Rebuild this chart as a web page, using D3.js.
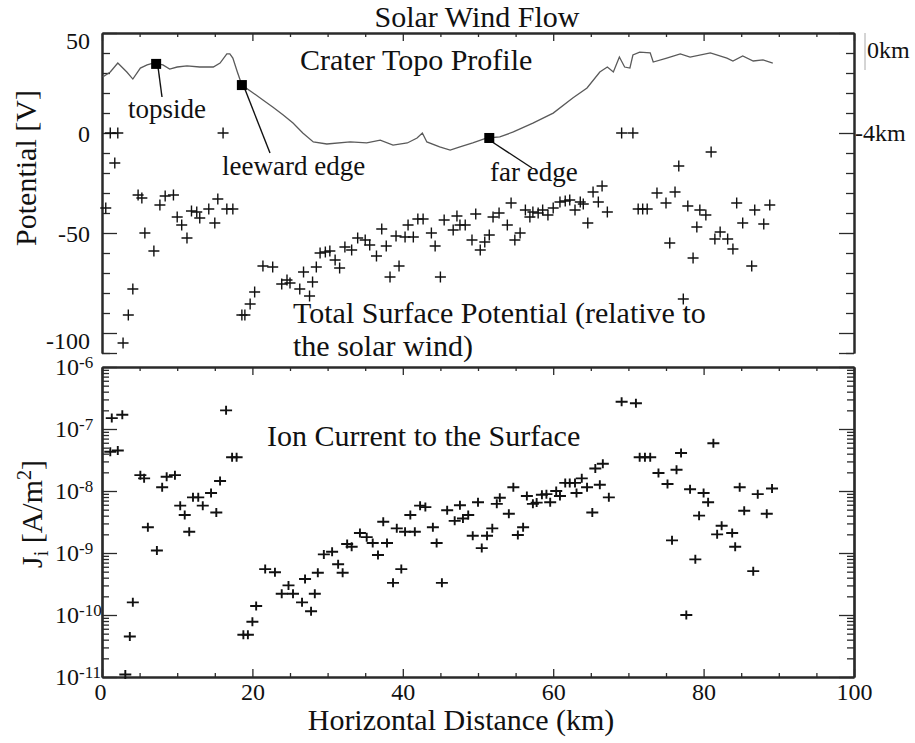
<!DOCTYPE html>
<html><head><meta charset="utf-8">
<script src="https://cdn.jsdelivr.net/npm/d3@7"></script>
<style>
body{margin:0;background:#fff;}
svg{display:block;font-family:"Liberation Serif","Times New Roman",serif;}
</style></head><body>
<svg id="c" width="915" height="743"></svg>
<script>
// ---------------- DATA ----------------
const xTickLabels = [0, 20, 40, 60, 80, 100];
const potTickLabels = [50, 0, -50, -100];
const jDecades = [1e-6, 1e-7, 1e-8, 1e-9, 1e-10, 1e-11];
const jDecadeExp = ["-6", "-7", "-8", "-9", "-10", "-11"];

// crater topography profile: [distance km, elevation km]
const topoProfile = [
[0.1,-1.30],[1.1,-1.06],[2.1,-0.63],[3.3,-1.06],[4.1,-1.40],[5.1,-0.87],[6.0,-0.72],[6.8,-0.63],[8.1,-0.72],[9.0,-0.92],
[10.0,-0.82],[11.3,-0.77],[13.0,-0.82],[14.8,-0.82],[15.7,-0.63],[16.6,-0.19],[17.0,-0.19],[17.4,-0.39],[18.0,-1.06],[18.6,-1.69],
[20.1,-2.07],[21.4,-2.41],[22.7,-2.75],[24.1,-3.13],[25.4,-3.52],[26.7,-4.00],[28.1,-4.43],[29.9,-4.53],[33.0,-4.43],[35.2,-4.48],
[37.0,-4.34],[38.7,-4.58],[40.6,-4.48],[41.9,-4.24],[42.6,-4.00],[43.2,-4.43],[44.9,-4.67],[46.3,-4.82],[47.6,-4.67],[49.3,-4.48],
[51.2,-4.24],[52.9,-4.19],[54.7,-3.95],[57.3,-3.52],[60.0,-3.04],[62.6,-2.31],[64.5,-1.83],[66.2,-1.06],[67.2,-0.82],[68.0,-1.06],
[68.8,-0.34],[69.5,-0.82],[70.2,-0.87],[70.6,-0.24],[71.5,-0.10],[72.9,-0.14],[73.3,-0.58],[75.1,-0.39],[76.9,-0.19],[78.2,-0.34],
[80.9,-0.14],[83.1,-0.39],[83.9,-0.53],[85.2,-0.29],[86.6,-0.53],[87.9,-0.48],[89.2,-0.63]
];
const markerNames = ["topside", "leeward edge", "far edge"];
const markerKm = [7.2, 18.6, 51.5];
const markerElev = [-0.67, -1.69, -4.24];

// total surface potential: [distance km, potential V]
const potential = [
[0.5,-37.5],[1.1,0],[2.1,0],[1.7,-15],[2.8,-105],[3.5,-91],[4.1,-78],[4.8,-31],[5.3,-32.5],[5.7,-50],[6.9,-59],[7.7,-36],[8.4,-31.5],
[9.5,-31],[10.0,-42],[10.6,-46],[11.3,-52.5],[11.9,-39],[12.6,-39.5],[13.0,-42.5],[14.2,-38],[15.0,-45],[15.4,-33],[16.1,0],[16.6,-38],[17.4,-38],
[18.6,-91],[19.0,-91],[19.7,-85.5],[20.3,-79.5],[21.4,-66.5],[22.7,-67],[23.9,-75.5],[24.6,-73.5],[25.0,-75],[26.3,-78],[26.8,-69.5],
[27.6,-81.5],[28.0,-74.5],[28.5,-67],[29.0,-60],[29.7,-59.5],[30.3,-59],[31.0,-63.5],[31.6,-67.5],[32.3,-57],[33.2,-58.5],[34.0,-52.5],
[35.0,-53.5],[35.6,-56],[36.5,-61.5],[37.2,-48],[37.8,-56.5],[38.3,-72],[39.1,-51.5],[39.5,-66.5],[40.3,-52],[40.7,-46],[41.4,-52],
[42.0,-43],[42.7,-43],[43.8,-50],[44.3,-56.5],[45.0,-72],[45.5,-43.5],[46.7,-48.5],[47.2,-41.5],[47.6,-46],[48.3,-46],[49.2,-53.5],
[49.7,-40.5],[50.3,-58.5],[50.9,-54.5],[51.5,-51],[52.0,-42],[52.8,-40],[53.9,-46],[54.4,-35],[54.9,-53.5],[55.6,-50],[56.3,-38.5],
[56.9,-42],[57.3,-39.5],[58.0,-40],[58.6,-38.5],[59.3,-41],[60.0,-37.5],[60.9,-34.5],[61.6,-34],[62.2,-33.5],[62.9,-38.5],[63.6,-34.5],
[64.0,-35.5],[64.6,-45],[65.3,-29.5],[66.0,-34.5],[66.5,-26.5],[67.2,-39.5],
[69.1,0],[70.6,0],[71.3,-38],[71.9,-38],[72.5,-38],[73.8,-30],[75.0,-35],[75.5,-55],[76.2,-29.5],[76.7,-16.5],[77.3,-83],[77.9,-36.5],
[78.6,-62.5],[79.1,-47],[79.5,-38.5],[80.3,-41],[81.0,-9.5],[81.5,-53],[82.2,-49.5],[83.2,-53],[83.9,-58],[84.4,-35],[85.2,-45],
[86.4,-66.5],[86.8,-38.5],[88.0,-45.5],[88.8,-36]
];

// ion current to the surface: [distance km, J_i A/m^2]
const ionCurrent = [
[1.3,1.5e-7],[2.7,1.7e-7],[1.1,4.3e-8],[2.1,4.5e-8],[5.1,1.8e-8],[5.6,1.6e-8],[6.1,2.6e-9],[7.3,1.1e-9],[8.0,1.15e-8],[8.6,1.7e-8],
[9.7,1.8e-8],[10.4,5.8e-9],[11.0,4.1e-9],[11.6,2.2e-9],[12.1,7.9e-9],[12.8,7.9e-9],[13.4,5.8e-9],[14.5,9.3e-9],[15.2,4.5e-9],[15.7,1.45e-8],
[16.5,2.0e-7],[17.3,3.5e-8],[17.9,3.5e-8],[4.1,1.6e-10],[3.7,4.5e-11],[3.1,1.1e-11],
[18.8,4.8e-11],[19.4,4.8e-11],[20.0,7.8e-11],[20.5,1.4e-10],[21.7,5.5e-10],[23.0,4.9e-10],[23.9,2.2e-10],[24.8,3.0e-10],[25.4,2.2e-10],
[26.6,1.6e-10],[27.0,3.8e-10],[27.8,1.15e-10],[28.3,2.2e-10],[28.7,4.8e-10],[29.5,9.5e-10],[30.6,1.05e-9],[31.4,6.6e-10],[32.0,4.8e-10],
[32.6,1.4e-9],[33.2,1.26e-9],[34.3,2.1e-9],[35.2,1.8e-9],[36.0,1.45e-9],[36.7,9.3e-10],[37.4,3.2e-9],[37.9,1.45e-9],[38.7,3.3e-10],
[39.2,2.5e-9],[39.8,5.5e-10],[40.3,2.2e-9],[41.0,4.1e-9],[41.6,2.2e-9],[42.3,5.8e-9],[43.0,5.5e-9],[44.0,2.6e-9],[44.5,1.45e-9],
[45.2,3.3e-10],[45.9,4.9e-9],[46.9,3.3e-9],[47.6,5.9e-9],[48.0,3.6e-9],[48.7,4.1e-9],[49.3,1.9e-9],[50.0,6.6e-9],[50.5,1.2e-9],
[51.2,1.9e-9],[51.9,2.5e-9],[52.5,6.2e-9],[52.9,7.8e-9],[54.1,4.3e-9],[54.7,1.15e-8],[55.3,1.95e-9],[56.0,2.6e-9],[56.5,8.3e-9],
[57.3,6.2e-9],[57.8,6.5e-9],[58.5,8.7e-9],[59.1,8.9e-9],[59.6,6.6e-9],[60.4,1.0e-8],[60.9,8.3e-9],[61.6,1.35e-8],[62.2,1.35e-8],
[62.9,1.35e-8],[63.1,9.3e-9],[63.8,1.6e-8],[64.5,1.15e-8],[65.2,4.5e-9],[65.6,2.3e-8],[66.2,1.26e-8],[66.6,2.75e-8],[67.4,7.9e-9],
[69.1,2.75e-7],[71.0,2.6e-7],[71.5,3.5e-8],[72.2,3.5e-8],[72.9,3.5e-8],[74.0,1.95e-8],[75.2,1.3e-8],[75.8,1.6e-9],[76.4,2.2e-8],
[77.0,4.1e-8],[77.7,1.0e-10],[78.2,1.07e-8],[78.9,7.9e-10],[79.4,4.0e-9],[80.0,9.3e-9],[80.6,6.6e-9],[81.3,5.9e-8],[81.8,2.0e-9],
[82.4,2.75e-9],[83.8,2.1e-9],[84.2,1.26e-9],[84.8,1.15e-8],[85.4,4.8e-9],[86.6,5.1e-10],[87.2,8.9e-9],[88.4,4.3e-9],[89.1,1.1e-8]
];

// ---------------- LAYOUT ----------------
const svg = d3.select("#c");
const xL = 102, xR = 854;
const x = d3.scaleLinear().domain([0, 100]).range([xL, xR]);
const yTop = d3.scaleLinear().domain([-110, 50]).range([353, 33]);
const yBot = d3.scaleLog().domain([1e-11, 1e-6]).range([677, 367]);
// topography axis (km) shares the upper panel: 0 km at 41.5 V level, -4 km at 0 V level
const yTopo = d3.scaleLinear().domain([-4, 0]).range([yTop(0), yTop(41.5)]);

const AX = "#2a2a2a";
const xMinor = d3.range(0, 101, 5);
const potMinor = d3.range(-110, 51, 10);
const jAll = yBot.ticks();

function style(g, w) {
  g.selectAll("path.domain").attr("stroke", AX).attr("stroke-width", w || 1.6);
  g.selectAll(".tick line").attr("stroke", AX).attr("stroke-width", 1.3);
  g.selectAll(".tick text").remove();
}
function xAxisTicks(y, dir) {
  const mk = dir > 0 ? d3.axisBottom : d3.axisTop;
  const g1 = svg.append("g").attr("transform", `translate(0,${y})`)
    .call(mk(x).tickValues(xMinor.filter(v => v % 20 !== 0)).tickSize(4).tickSizeOuter(0).tickFormat(""));
  style(g1, 2);
  const g2 = svg.append("g").attr("transform", `translate(0,${y})`)
    .call(mk(x).tickValues(xTickLabels).tickSize(8).tickSizeOuter(0).tickFormat(""));
  style(g2, 2);
}

// ---- upper panel frame ----
xAxisTicks(33, 1);
[[xL, d3.axisRight], [xR, d3.axisLeft]].forEach(([px, mk]) => {
  const g1 = svg.append("g").attr("transform", `translate(${px},0)`)
    .call(mk(yTop).tickValues(potMinor.filter(v => v % 50 !== 0)).tickSize(8).tickSizeOuter(0).tickFormat(""));
  style(g1, 2);
  const g2 = svg.append("g").attr("transform", `translate(${px},0)`)
    .call(mk(yTop).tickValues(potTickLabels.concat([-110])).tickSize(15).tickSizeOuter(0).tickFormat(""));
  style(g2, 2);
});
// left labels of potential
const gl = svg.append("g").attr("transform", `translate(${xL},0)`)
  .call(d3.axisLeft(yTop).tickValues(potTickLabels).tickSize(0).tickPadding(12).tickFormat(d => String(d)));
gl.select("path.domain").remove();
gl.selectAll(".tick text").attr("font-size", 24).attr("fill", "#111")
  .attr("font-family", "Liberation Serif")
  .attr("dy", d => (d === 50 || d === -100) ? "0.66em" : "0.34em");

// ---- lower panel frame ----
xAxisTicks(367, 1);
xAxisTicks(677, -1);
[[xL, d3.axisRight], [xR, d3.axisLeft]].forEach(([px, mk]) => {
  const g1 = svg.append("g").attr("transform", `translate(${px},0)`)
    .call(mk(yBot).tickValues(jAll.filter(v => Math.abs(Math.log10(v) - Math.round(Math.log10(v))) > 1e-6)).tickSize(7).tickSizeOuter(0).tickFormat(""));
  style(g1, 2.2);
  const g2 = svg.append("g").attr("transform", `translate(${px},0)`)
    .call(mk(yBot).tickValues(jDecades).tickSize(15).tickSizeOuter(0).tickFormat(""));
  style(g2, 2.2);
});
// x labels
const gx = svg.append("g").attr("transform", `translate(0,677)`)
  .call(d3.axisBottom(x).tickValues(xTickLabels).tickSize(0).tickPadding(6).tickFormat(d => String(d)));
gx.select("path.domain").remove();
gx.selectAll(".tick text").attr("font-size", 24).attr("fill", "#111").attr("font-family", "Liberation Serif")
  .attr("dx", d => d === 0 ? -2 : 0);

// y log labels
const jl = svg.append("g");
jDecades.forEach((v, i) => {
  const t = jl.append("text").attr("x", 55).attr("y", yBot(v) + 8).attr("font-size", 24).attr("fill", "#111");
  t.append("tspan").text("10");
  t.append("tspan").attr("font-size", 17).attr("dy", -7).text(jDecadeExp[i]);
});

// ---- topography ----
const line = d3.line().x(d => x(d[0])).y(d => yTopo(d[1]));
svg.append("path").datum(topoProfile).attr("d", line)
  .attr("fill", "none").attr("stroke", "#5a5a5a").attr("stroke-width", 1.3);

const annot = [
  { tx: 128, ty: 118, lx: 162, ly: 97 },
  { tx: 222, ty: 175, lx: 270, ly: 153 },
  { tx: 490, ty: 181, lx: 532, ly: 168 }
];
markerNames.forEach((n, i) => {
  const mx = x(markerKm[i]), my = yTopo(markerElev[i]);
  svg.append("line").attr("x1", mx + (i === 0 ? 2 : 3)).attr("y1", my + 4).attr("x2", annot[i].lx).attr("y2", annot[i].ly)
    .attr("stroke", "#111").attr("stroke-width", 1.4);
  svg.append("rect").attr("x", mx - 5).attr("y", my - 5).attr("width", 10).attr("height", 10).attr("fill", "#000");
  svg.append("text").attr("x", annot[i].tx).attr("y", annot[i].ty).attr("font-size", 27).attr("fill", "#111").text(n);
});

// ---- markers ----
const plusTop = "M-5.5,0H5.5M0,-5.5V5.5";
const plusBot = "M-6,0H6M0,-4.5V4.5";
svg.append("g").selectAll("path").data(potential).join("path")
  .attr("transform", d => `translate(${x(d[0])},${yTop(d[1])})`)
  .attr("d", plusTop).attr("stroke", "#111").attr("stroke-width", 1.4).attr("fill", "none");
svg.append("g").selectAll("path").data(ionCurrent).join("path")
  .attr("transform", d => `translate(${x(d[0])},${yBot(d[1])})`)
  .attr("d", plusBot).attr("stroke", "#111").attr("stroke-width", 1.9).attr("fill", "none");

// ---- right km labels ----
svg.append("line").attr("x1", 865).attr("x2", 865).attr("y1", 33).attr("y2", 70).attr("stroke", "#aaa").attr("stroke-width", 1);
svg.append("text").attr("x", 867).attr("y", yTopo(0) + 8).attr("font-size", 24).attr("fill", "#111").text("0km");
svg.append("text").attr("x", 855).attr("y", yTopo(-4) + 8).attr("font-size", 24).attr("fill", "#111").text("-4km");

// ---- titles ----
const T = (s, xx, yy, anchor, size) => svg.append("text").attr("x", xx).attr("y", yy)
  .attr("text-anchor", anchor || "start").attr("font-size", size || 30).attr("fill", "#111").text(s);
T("Solar Wind Flow", 477, 27, "middle");
T("Crater Topo Profile", 300, 70);
T("Total Surface Potential (relative to", 293, 323);
T("the solar wind)", 293, 356);
T("Ion Current to the Surface", 267, 446);
T("Horizontal Distance (km)", 461, 730, "middle");

svg.append("text").attr("transform", "translate(36,168) rotate(-90)").attr("text-anchor", "middle")
  .attr("font-size", 30).attr("fill", "#111").text("Potential [V]");
const jt = svg.append("text").attr("transform", "translate(42,514) rotate(-90)").attr("text-anchor", "middle")
  .attr("font-size", 30).attr("fill", "#111");
jt.append("tspan").text("J");
jt.append("tspan").attr("font-size", 20).attr("dy", 6).text("i");
jt.append("tspan").attr("dy", -6).text(" [A/m");
jt.append("tspan").attr("font-size", 20).attr("dy", -11).text("2");
jt.append("tspan").attr("dy", 11).text("]");
</script>
</body></html>
